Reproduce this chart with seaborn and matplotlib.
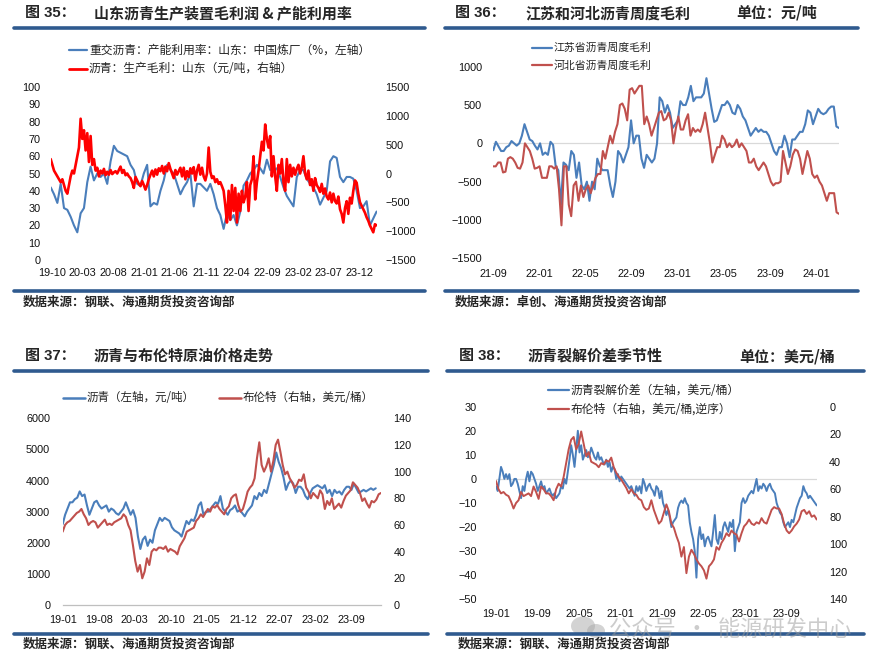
import numpy as np
import pandas as pd
import matplotlib
matplotlib.use("Agg")
import matplotlib.pyplot as plt
import matplotlib.dates as mdates
from matplotlib.lines import Line2D
from matplotlib.patches import Ellipse
import seaborn as sns

# =======================================
# Data
# =======================================
# Fig 35: Shandong capacity utilisation (%) and production margin (yuan/t)
p1_start, p1_end = "2019-09-26", "2024-02-25"
p1_util = [42, 38, 33, 44, 30, 29, 25, 20, 16, 27, 30, 45, 54, 46, 50, 48, 50, 44, 57, 66,
           63, 62, 61, 60, 55, 52, 44, 43, 50, 55, 31, 33, 32, 40, 46, 55, 52, 50, 44, 38,
           42, 45, 50, 31, 44, 44, 42, 40, 44, 38, 30, 26, 18, 27, 23, 26, 20, 28, 43, 46,
           50, 52, 55, 53, 50, 58, 52, 52, 53, 48, 42, 37, 34, 31, 48, 52, 52, 47, 44, 42,
           38, 32, 36, 40, 57, 60, 59, 48, 45, 48, 48, 47, 40, 30, 31, 34, 20, 24, 28]
p1_margin = [250, 150, 50, 0, -50, -100, -150, -100, -200, -300, -350, -200, -50, 50, 0, 150,
             300, 450, 950, 600, 750, 400, 700, 200, 650, 150, 250, 50, 100, -50, 50, 0, 80,
             -30, 30, -20, 60, -10, 20, 40, 0, 60, 120, 10, 60, -30, 0, -50, -80, -150, -250,
             -60, -120, -180, -220, -130, -200, -280, -200, -100, -20, 50, -50, 70, -20, 90,
             40, 130, 0, 120, 40, 180, 80, 0, -80, 60, -20, 40, 100, -50, 100, -100, 40, -60,
             90, 0, 110, -120, 50, 150, -20, 100, -50, -120, 0, 450, 30, -80, -50, -150, -100,
             -180, -150, -220, -300, -550, -850, -300, -800, -200, -650, -250, -850, -350,
             -650, -300, -500, -400, -150, -650, -200, -100, 300, -450, -150, 50, 300, 550,
             400, 850, 600, 450, 650, -50, 300, -50, -300, 150, 0, 250, -150, -300, 250, -150,
             150, -50, 100, -20, 80, 150, 0, 100, 300, 0, -100, 50, -200, -100, -300, -80,
             -200, -250, -320, -180, -350, -260, -400, -450, -330, -500, -350, -480, -520,
             -400, -620, -700, -850, -600, -480, -700, -420, -520, -300, -120, -160, -350,
             -500, -560, -620, -680, -760, -820, -900, -960, -1020, -880, -900]
p1_ticks = pd.date_range("2019-10-01", "2023-12-01", freq="5MS")

# Fig 36: weekly margins in Jiangsu and Hebei (yuan/t)
p2_start, p2_end = "2021-09-01", "2024-03-01"
p2_jiangsu = [-90, 20, -40, -100, -100, -50, -30, 30, 0, -30, 0, 100, 250, 150, 50, 30, -30,
              -80, 0, -150, -120, -150, 20, -20, -300, -350, -800, -250, -280, -350, -100,
              -150, -450, -250, -550, -600, -500, -750, -500, -600, -200, -300, -350, -350,
              -350, -550, -700, -500, -100, -150, -250, -150, -50, 300, 0, 100, 100, -200,
              -320, -150, -200, -250, -200, 0, 600, 550, 400, 500, 400, 200, 250, 300, 550,
              500, 500, 600, 750, 550, 600, 600, 600, 650, 850, 650, 450, 280, 300, 400, 500,
              500, 550, 500, 400, 380, 500, 450, 350, 300, 200, 100, 150, 200, 150, 180, 150,
              150, 100, 0, -100, -150, -50, -50, 100, 0, -180, 50, 50, 100, 150, 150, 250,
              430, 400, 250, 350, 450, 400, 380, 400, 450, 480, 480, 220, 200]
p2_hebei = [-300, -300, -250, -250, -380, -370, -200, -180, -200, -250, -320, -330, -250, 0,
            -50, -100, -200, -330, -320, -300, -450, -450, -450, -300, -300, -330, -300, -600,
            -1070, -300, -300, -800, -950, -550, -500, -750, -550, -700, -600, -550, -650,
            -550, -450, -400, -400, -100, -200, -50, 100, 0, 150, 250, 500, 520, 450, 300,
            700, 720, 650, 700, 750, 750, 250, 350, 250, 100, 200, 300, 400, 420, 300, 320,
            400, 300, 0, 200, 350, 180, 180, 300, 380, 100, 200, 150, 180, 150, 250, 400, 200,
            0, -250, -150, -50, -50, 100, 50, -50, 0, -50, -20, 50, -50, 0, -50, -100, -250,
            -250, -200, -300, -350, -300, -250, -300, -400, -500, -550, -520, -520, -500,
            -100, -250, -400, -300, -150, -80, -100, -200, -400, -250, -100, -200, -400, -450,
            -420, -500, -550, -650, -750, -650, -650, -650, -900, -920]
p2_ticks = pd.date_range("2021-09-01", "2024-01-01", freq="4MS")

# Fig 37: asphalt price (yuan/t) and Brent (USD/bbl)
p3_start = "2019-01-01"
p3_asphalt_end, p3_brent_end = "2024-01-22", "2024-02-22"
p3_asphalt = [2600, 2900, 3100, 3300, 3300, 3400, 3450, 3650, 3500, 3550, 3200, 2900, 3100,
              3300, 3350, 3200, 3100, 3150, 3200, 3000, 3100, 3050, 2950, 2900, 3000, 3100,
              3300, 3100, 2900, 3050, 2800, 2200, 1800, 2100, 2200, 1900, 2100, 2000, 2400,
              2600, 2800, 2700, 2800, 2750, 2700, 2500, 2400, 2350, 2300, 2200, 2450, 2700,
              2600, 2750, 2700, 2900, 3200, 3300, 2900, 3000, 3000, 3100, 3200, 3300, 3250,
              3500, 3100, 3000, 2900, 3050, 3100, 3200, 3000, 3050, 2950, 2850, 3000, 3100,
              3200, 3500, 3400, 3600, 3500, 3700, 3600, 3900, 4200, 4500, 4900, 4600, 4400,
              4100, 3700, 3900, 4000, 3900, 3600, 3800, 3800, 3700, 3500, 3400, 3600, 3750,
              3800, 3850, 3800, 3750, 3850, 3600, 3700, 3500, 3700, 3600, 3650, 3550, 3700,
              3800, 3800, 3700, 3900, 3750, 3600, 3650, 3700, 3650, 3700, 3750, 3700, 3750]
p3_brent = [55, 60, 62, 63, 65, 67, 69, 70, 72, 68, 65, 60, 62, 63, 62, 58, 60, 62, 64, 60, 61,
            60, 62, 63, 64, 65, 68, 66, 60, 56, 45, 33, 25, 30, 20, 25, 35, 30, 40, 42, 41, 43,
            43, 42, 44, 40, 42, 41, 40, 38, 44, 47, 50, 55, 56, 57, 58, 63, 65, 68, 66, 69, 72,
            70, 74, 73, 75, 72, 70, 68, 72, 74, 80, 82, 83, 75, 70, 72, 78, 85, 88, 90, 95,
            110, 122, 105, 100, 104, 110, 100, 108, 120, 124, 115, 105, 98, 100, 95, 92, 88,
            90, 94, 93, 98, 88, 85, 80, 84, 82, 80, 86, 83, 72, 78, 75, 80, 72, 74, 76, 73,
            78, 82, 84, 86, 92, 90, 88, 84, 78, 80, 76, 73, 78, 77, 79, 83, 84]
p3_ticks = pd.date_range("2019-01-01", "2023-09-01", freq="7MS")

# Fig 38: asphalt crack spread (USD/bbl) and Brent (USD/bbl, inverted)
p4_start, p4_end = "2019-01-01", "2024-02-24"
p4_crack = [-3, -5, 0, 5, 3, 0, 2, 0, 2, -3, -2, 0, 0, -2, -5, -8, -3, -5, 0, 3, -1, 3, 2, 0,
            -2, -5, -3, -1, -4, -3, -6, -5, -4, -6, -7, -6, -8, -7, -6, -3, -4, 0, -2, 3, 8,
            14, 10, 5, 12, 20, 11, 14, 8, 10, 12, 9, 10, 13, 11, 9, 8, 11, 8, 9, 7, 6, 8, 5,
            7, 3, 5, 4, 0, 2, -1, 1, 0, -1, -2, -3, -4, -3, -5, -7, -3, -5, -3, -6, 0, -2, -5,
            -3, -2, -4, -5, -7, -3, -4, -8, -5, -10, -12, -15, -13, -16, -20, -18, -17, -16,
            -12, -10, -9, -10, -8, -10, -11, -18, -22, -25, -30, -41, -25, -20, -25, -23, -28,
            -25, -24, -26, -28, -22, -15, -25, -27, -22, -25, -20, -18, -20, -22, -18, -20,
            -17, -30, -22, -20, -18, -10, -8, -10, -9, -7, -6, -5, -6, -3, 0, -5, -3, -4, -2,
            -3, -5, -3, -2, -4, -5, -6, -10, -12, -14, -15, -18, -20, -19, -18, -20, -17, -18,
            -15, -12, -10, -8, -7, -3, -5, -6, -8, -7, -8, -9, -10, -11]
p4_brent = [54, 60, 63, 62, 64, 65, 69, 74, 70, 68, 62, 65, 64, 63, 65, 58, 62, 67, 58, 60,
            63, 63, 65, 68, 60, 56, 58, 51, 41, 31, 24, 22, 31, 27, 18, 27, 36, 33, 40, 41, 42,
            44, 41, 42, 39, 40, 37, 44, 48, 51, 53, 56, 59, 63, 60, 63, 64, 67, 68, 73, 75, 74,
            68, 75, 80, 85, 83, 77, 71, 76, 85, 88, 94, 99, 109, 102, 121, 109, 104, 107, 111,
            114, 116, 119, 125, 116, 114, 111, 102, 104, 99, 96, 92, 94, 90, 92, 93, 98, 92,
            87, 85, 82, 85, 86, 84, 85, 81, 84, 85, 80, 75, 73, 74, 74, 78, 85, 90, 92, 90, 87,
            85, 82, 76, 75, 78, 76, 80, 79, 82]
p4_ticks = pd.date_range("2019-01-01", "2023-09-01", freq="8MS")

# =======================================
# Style
# =======================================
W, H = 885, 663
RULE = "#2F5A8F"
BLUE = "#4A7EBB"
RED = "#C0504D"
PURE_RED = "#FF0000"
CJK = ["Noto Sans CJK SC", "DejaVu Sans"]
NUM = ["Liberation Sans", "Noto Sans CJK SC"]
TICK_SIZE = 7.8
TITLE_SIZE = 10.8

sns.set_theme(style="white")
plt.rcParams["font.family"] = NUM
plt.rcParams["axes.unicode_minus"] = True

fig = plt.figure(figsize=(W / 100, H / 100), dpi=100)


def box(l, t, r, b):
    return [l / W, 1 - b / H, (r - l) / W, (b - t) / H]


def rule(x0, x1, y):
    fig.add_artist(Line2D([x0 / W, x1 / W], [1 - y / H, 1 - y / H], color=RULE, lw=2.6,
                          transform=fig.transFigure))


def ftext(x, y, s, **kw):
    fig.text(x / W, 1 - y / H, s, va="center", ha="left", **kw)


def legend_item(x0, x1, y, color, lw, s, size=8):
    fig.add_artist(Line2D([x0 / W, x1 / W], [1 - y / H] * 2, color=color, lw=lw,
                          transform=fig.transFigure))
    ftext(x1 + 2, y, s, fontsize=size, family=CJK, color="#222222")


def header(xfig, xtitle, y, num, title, unit=None, xunit=None):
    ftext(xfig, y, "图 " + num + "：", fontsize=TITLE_SIZE, fontweight="bold", family=NUM)
    ftext(xtitle, y, title, fontsize=TITLE_SIZE, fontweight="bold", family=CJK)
    if unit:
        ftext(xunit, y, unit, fontsize=TITLE_SIZE, fontweight="bold", family=CJK)


def source(x, y, s):
    ftext(x, y, s, fontsize=9, fontweight="bold", family=CJK)


def clean(ax):
    for sp in ax.spines.values():
        sp.set_visible(False)
    ax.grid(False)
    ax.tick_params(length=0, labelsize=TICK_SIZE, colors="#111111")
    ax.set_xlabel("")
    ax.set_ylabel("")


def series(dates, vals):
    return pd.DataFrame({"date": dates, "value": vals})


# =======================================
# Fig 35
# =======================================
header(25, 94, 13, "35", "山东沥青生产装置毛利润 & 产能利用率")
rule(14, 425, 28)
ax1 = fig.add_axes(box(50.5, 87, 377, 260))
d1 = series(pd.date_range(p1_start, p1_end, periods=len(p1_util)), p1_util)
sns.lineplot(data=d1, x="date", y="value", ax=ax1, color=BLUE, lw=1.5, estimator=None)
ax1.set_ylim(0, 100)
ax1.set_yticks(range(0, 101, 10))
ax1b = ax1.twinx()
d1b = series(pd.date_range(p1_start, p1_end, periods=len(p1_margin)), p1_margin)
sns.lineplot(data=d1b, x="date", y="value", ax=ax1b, color=PURE_RED, lw=1.9, estimator=None)
ax1b.set_ylim(-1500, 1500)
ax1b.set_yticks(range(-1500, 1501, 500))
for a in (ax1, ax1b):
    clean(a)
    a.set_xlim(pd.Timestamp("2019-09-25"), pd.Timestamp("2024-02-27"))
ax1.set_xticks(p1_ticks)
ax1.xaxis.set_major_formatter(mdates.DateFormatter("%y-%m"))
ax1.tick_params(axis="y", pad=7)
ax1.tick_params(axis="x", pad=6)
ax1b.tick_params(axis="y", pad=6)
legend_item(69, 87, 50, BLUE, 1.6, "重交沥青：产能利用率：山东：中国炼厂（%，左轴）", 8.5)
legend_item(69, 87, 69, PURE_RED, 2.0, "沥青：生产毛利：山东（元/吨，右轴）", 8.5)
rule(14, 425, 291)
source(23, 302, "数据来源：钢联、海通期货投资咨询部")

# =======================================
# Fig 36
# =======================================
header(455, 525, 13, "36", "江苏和河北沥青周度毛利", "单位：元/吨", 736)
rule(445, 858, 28)
ax2 = fig.add_axes(box(493.3, 66.7, 839, 258.3))
ax2.axhline(0, color="#D9D9D9", lw=0.9)
d2a = series(pd.date_range(p2_start, p2_end, periods=len(p2_jiangsu)), p2_jiangsu)
d2b = series(pd.date_range(p2_start, p2_end, periods=len(p2_hebei)), p2_hebei)
sns.lineplot(data=d2a, x="date", y="value", ax=ax2, color=BLUE, lw=1.5, estimator=None)
sns.lineplot(data=d2b, x="date", y="value", ax=ax2, color=RED, lw=1.5, estimator=None)
clean(ax2)
ax2.set_xlim(pd.Timestamp(p2_start), pd.Timestamp(p2_end))
ax2.set_ylim(-1500, 1000)
ax2.set_yticks(range(-1500, 1001, 500))
ax2.set_xticks(p2_ticks)
ax2.xaxis.set_major_formatter(mdates.DateFormatter("%y-%m"))
ax2.tick_params(axis="y", pad=8)
ax2.tick_params(axis="x", pad=8)
legend_item(532, 552, 47.5, BLUE, 1.6, "江苏省沥青周度毛利", 7.8)
legend_item(532, 552, 65, RED, 1.6, "河北省沥青周度毛利", 7.8)
rule(445, 858, 291)
source(455, 302, "数据来源：卓创、海通期货投资咨询部")

# =======================================
# Fig 37
# =======================================
header(25, 94, 356, "37", "沥青与布伦特原油价格走势")
rule(14, 428, 371)
ax3 = fig.add_axes(box(62.7, 418.3, 381, 605))
d3a = series(pd.date_range(p3_start, p3_asphalt_end, periods=len(p3_asphalt)), p3_asphalt)
sns.lineplot(data=d3a, x="date", y="value", ax=ax3, color=BLUE, lw=1.5, estimator=None)
ax3.set_ylim(0, 6000)
ax3.set_yticks(range(0, 6001, 1000))
ax3b = ax3.twinx()
d3b = series(pd.date_range(p3_start, p3_brent_end, periods=len(p3_brent)), p3_brent)
sns.lineplot(data=d3b, x="date", y="value", ax=ax3b, color=RED, lw=1.5, estimator=None)
ax3b.set_ylim(0, 140)
ax3b.set_yticks(range(0, 141, 20))
for a in (ax3, ax3b):
    clean(a)
    a.set_xlim(pd.Timestamp(p3_start), pd.Timestamp("2024-02-22"))
ax3.spines["bottom"].set_visible(True)
ax3.spines["bottom"].set_color("#BFBFBF")
ax3.spines["bottom"].set_linewidth(0.9)
ax3.set_xticks(p3_ticks)
ax3.xaxis.set_major_formatter(mdates.DateFormatter("%y-%m"))
ax3.tick_params(axis="x", length=3, width=0.8, color="#BFBFBF", direction="out", pad=4)
ax3.tick_params(axis="y", pad=9)
ax3b.tick_params(axis="y", pad=9)
legend_item(63, 85, 397.7, BLUE, 1.8, "沥青（左轴，元/吨）", 8.3)
legend_item(219, 241, 397.7, RED, 1.8, "布伦特（右轴，美元/桶）", 8.3)
rule(14, 428, 634.3)
source(23, 644.3, "数据来源：钢联、海通期货投资咨询部")

# =======================================
# Fig 38
# =======================================
header(459, 528, 356, "38", "沥青裂解价差季节性", "单位：美元/桶", 739)
rule(447, 864, 371)
ax4 = fig.add_axes(box(496, 406.7, 816.7, 599.3))
ax4.axhline(0, color="#D9D9D9", lw=0.9)
d4a = series(pd.date_range(p4_start, p4_end, periods=len(p4_crack)), p4_crack)
sns.lineplot(data=d4a, x="date", y="value", ax=ax4, color=BLUE, lw=1.4, estimator=None)
ax4.set_ylim(-50, 30)
ax4.set_yticks(range(-50, 31, 10))
ax4b = ax4.twinx()
d4b = series(pd.date_range(p4_start, p4_end, periods=len(p4_brent)), p4_brent)
sns.lineplot(data=d4b, x="date", y="value", ax=ax4b, color=RED, lw=1.4, estimator=None)
ax4b.set_ylim(140, 0)
ax4b.set_yticks(range(0, 141, 20))
for a in (ax4, ax4b):
    clean(a)
    a.set_xlim(pd.Timestamp(p4_start), pd.Timestamp(p4_end))
ax4.set_xticks(p4_ticks)
ax4.xaxis.set_major_formatter(mdates.DateFormatter("%y-%m"))
ax4.tick_params(axis="y", pad=14)
ax4.tick_params(axis="x", pad=7)
ax4b.tick_params(axis="y", pad=9)
legend_item(548, 569, 390, BLUE, 1.6, "沥青裂解价差（左轴，美元/桶）", 8.5)
legend_item(548, 569, 408.7, RED, 1.6, "布伦特（右轴，美元/桶,逆序）", 8.5)
rule(447, 864, 634.3)
source(458, 644.3, "数据来源：钢联、海通期货投资咨询部")

# watermark (gray, semi-transparent, with a small chat-bubble icon)
for cx, cy, w, h in [(583, 626, 24, 19), (596, 631, 18, 14)]:
    fig.add_artist(Ellipse((cx / W, 1 - cy / H), w / W, h / H, color="#A8A8A8", alpha=0.5,
                           transform=fig.transFigure, lw=0))
ftext(609, 629, "公众号  ·  能源研发中心", fontsize=16, family=CJK, color="#9A9A9A", alpha=0.5)

fig.savefig("out.png", dpi=100)
